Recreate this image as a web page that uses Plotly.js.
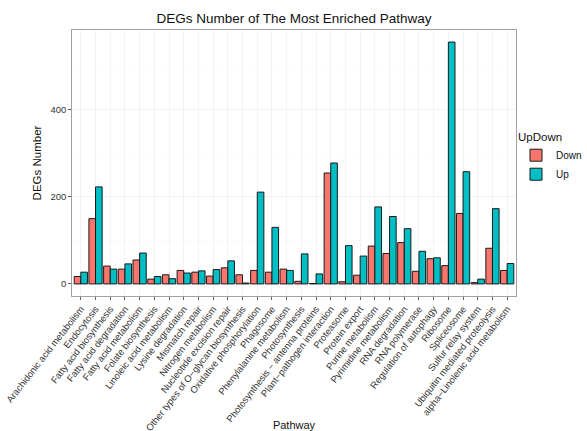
<!DOCTYPE html>
<html><head><meta charset="utf-8">
<script src="https://cdn.plot.ly/plotly-3.0.1.min.js"></script>
<style>html,body{margin:0;padding:0;background:#fff}#chart{width:587px;height:431px}</style>
</head><body><div id="chart"></div>
<script>
var pathways = ["Arachidonic acid metabolism","Endocytosis","Fatty acid biosynthesis","Fatty acid degradation","Fatty acid metabolism","Folate biosynthesis","Linoleic acid metabolism","Lysine degradation","Mismatch repair","Nitrogen metabolism","Nucleotide excision repair","Other types of O\u2212glycan biosynthesis","Oxidative phosphorylation","Phagosome","Phenylalanine metabolism","Photosynthesis","Photosynthesis \u2212 antenna proteins","Plant\u2212pathogen interaction","Proteasome","Protein export","Purine metabolism","Pyrimidine metabolism","RNA degradation","RNA polymerase","Regulation of autophagy","Ribosome","Spliceosome","Sulfur relay system","Ubiquitin mediated proteolysis","alpha\u2212Linolenic acid metabolism"];
var downValues = [17,150,41,34,55,11,21,31,27,18,37,21,31,27,34,6,1,255,5,20,87,70,95,29,58,42,162,3,82,31];
var upValues   = [27,223,34,46,71,17,12,25,30,33,53,2,211,130,31,69,23,278,88,64,177,155,127,75,60,556,258,11,173,47];

var line = {color:'#1a1a1a', width:1};
var data = [
  {type:'bar', name:'Down', x:pathways, y:downValues, marker:{color:'#F8766D', line:line}},
  {type:'bar', name:'Up', x:pathways, y:upValues, marker:{color:'#00BFC4', line:line}}
];
var layout = {
  width:587, height:431,
  margin:{l:72, r:71, t:30, b:135, pad:0, autoexpand:false},
  font:{family:'Liberation Sans, Arial, sans-serif', color:'#000'},
  paper_bgcolor:'#fff', plot_bgcolor:'#fff',
  barmode:'group', bargap:0.1, bargroupgap:0,
  title:{text:'DEGs Number of The Most Enriched Pathway', font:{size:13.5, color:'#111'}, x:0.5, xref:'paper', xanchor:'center', y:0.958, yanchor:'middle'},
  xaxis:{
    title:{text:'Pathway', font:{size:11, color:'#111'}, standoff:4},
    type:'category', range:[-0.6, 29.6], tickangle:-52,
    tickfont:{size:9.4, color:'#333'},
    showgrid:true, gridcolor:'#ebebeb', gridwidth:0.6,
    ticks:'outside', ticklen:3, tickcolor:'#333', tickwidth:0.8,
    showline:true, mirror:true, linecolor:'#888', linewidth:0.8,
    zeroline:false, automargin:false
  },
  yaxis:{
    title:{text:'DEGs Number', font:{size:11.5, color:'#111'}, standoff:6},
    range:[-27.8, 583.8], tickvals:[0,200,400], ticktext:['0','200','400'],
    tickfont:{size:9.5, color:'#333'},
    showgrid:true, gridcolor:'#ebebeb', gridwidth:0.6,
    minor:{tickvals:[100,300,500], showgrid:true, gridcolor:'#f5f5f5', gridwidth:0.4, ticks:''},
    ticks:'outside', ticklen:3, tickcolor:'#333', tickwidth:0.8,
    showline:true, mirror:true, linecolor:'#888', linewidth:0.8,
    zeroline:false, automargin:false
  },
  legend:{
    title:{text:'UpDown', font:{size:11.5, color:'#111'}},
    x:1.0, xanchor:'left', y:0.64, yanchor:'top',
    font:{size:10, color:'#111'}, tracegroupgap:0, itemwidth:30,
    bgcolor:'rgba(0,0,0,0)'
  },
  showlegend:true
};
Plotly.newPlot('chart', data, layout, {staticPlot:true, displayModeBar:false});
</script></body></html>
